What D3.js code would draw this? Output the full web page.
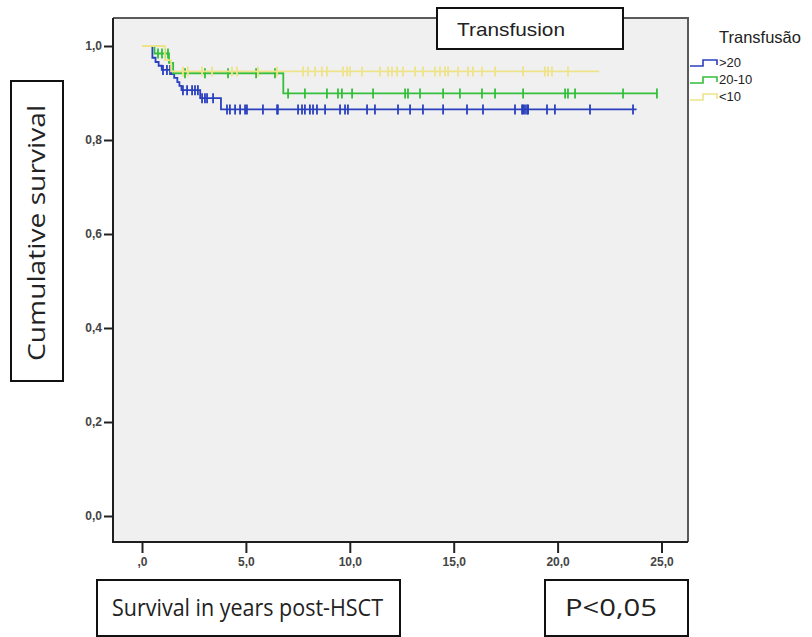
<!DOCTYPE html>
<html>
<head>
<meta charset="utf-8">
<script src="https://cdn.jsdelivr.net/npm/d3@7"></script>
<style>
  html, body { margin: 0; padding: 0; background: #ffffff; }
  svg { display: block; }
</style>
</head>
<body>
<svg id="chart" width="812" height="637"></svg>
<script>
// Kaplan–Meier survival by transfusion group
const groups = [">20", "20-10", "<10"];
const groupColors = ["#2a40bd", "#33bf3b", "#eee38a"];

// Group >20: event times and survival after each step
const stepTimesHigh = [0, 0.5, 0.65, 0.8, 0.95, 1.4, 1.55, 1.7, 1.8, 1.9, 2.8, 3.8];
const survivalHigh  = [1, 0.975, 0.966, 0.958, 0.949, 0.940, 0.932, 0.923, 0.915, 0.906, 0.889, 0.865];
const endHigh = 23.8;
const censorHigh = [1.01, 1.20, 1.35, 1.97, 2.17, 2.41, 2.55, 2.69, 2.89, 3.03, 3.13, 3.42,
  4.09, 4.23, 4.48, 4.72, 4.96, 5.05, 5.82, 6.50, 6.54, 7.51, 7.70, 7.84, 8.08, 8.23, 8.42,
  8.81, 9.53, 9.77, 9.91, 10.83, 11.21, 12.32, 12.90, 13.52, 14.49, 15.64, 16.41, 17.95,
  18.29, 18.34, 18.43, 18.53, 18.58, 19.49, 19.87, 21.56, 23.63];

// Group 20-10
const stepTimesMid = [0, 0.6, 1.3, 1.5, 6.8];
const survivalMid  = [1, 0.984, 0.964, 0.942, 0.899];
const endMid = 24.8;
const censorMid = [0.77, 0.96, 1.11, 1.25, 2.07, 3.03, 4.14, 5.49, 6.40, 7.03, 7.84, 8.90,
  9.43, 9.62, 10.11, 11.12, 12.66, 12.80, 13.38, 14.49, 15.30, 16.36, 16.99, 18.34, 20.36,
  20.50, 20.84, 23.15, 24.78];

// Group <10
const stepTimesLow = [0, 1.1, 1.4];
const survivalLow  = [1, 0.97, 0.946];
const endLow = 22.0;
const censorLow = [1.97, 2.21, 2.89, 3.37, 4.33, 4.57, 5.58, 6.50, 7.75, 7.99, 8.33, 8.66,
  8.90, 9.67, 9.87, 10.01, 10.59, 11.45, 11.84, 12.03, 12.27, 12.56, 13.14, 13.52, 14.10,
  14.34, 14.58, 14.73, 15.21, 15.69, 15.93, 16.36, 16.99, 18.34, 19.39, 19.54, 19.73, 20.50];

// Axis ticks
const xTickValues = [0, 5, 10, 15, 20, 25];
const xTickLabels = [",0", "5,0", "10,0", "15,0", "20,0", "25,0"];
const yTickValues = [0, 0.2, 0.4, 0.6, 0.8, 1.0];
const yTickLabels = ["0,0", "0,2", "0,4", "0,6", "0,8", "1,0"];

const series = [
  { name: groups[0], color: groupColors[0], times: stepTimesHigh, surv: survivalHigh, end: endHigh, censor: censorHigh },
  { name: groups[1], color: groupColors[1], times: stepTimesMid,  surv: survivalMid,  end: endMid,  censor: censorMid },
  { name: groups[2], color: groupColors[2], times: stepTimesLow,  surv: survivalLow,  end: endLow,  censor: censorLow }
];

const svg = d3.select("#chart");

// Plot frame
const frame = { left: 113, right: 688, top: 18, bottom: 542 };
const x = d3.scaleLinear().domain([0, 25]).range([142, 661.5]);
const y = d3.scaleLinear().domain([0, 1]).range([516, 46]);

svg.append("rect")
  .attr("x", frame.left).attr("y", frame.top)
  .attr("width", frame.right - frame.left).attr("height", frame.bottom - frame.top)
  .attr("fill", "#f0f0f0");
svg.append("path")
  .attr("d", `M${frame.left},${frame.top}H${frame.right}V${frame.bottom}`)
  .attr("fill", "none").attr("stroke", "#5a5a5a").attr("stroke-width", 2);
svg.append("path")
  .attr("d", `M${frame.left},${frame.top}V${frame.bottom}H${frame.right}`)
  .attr("fill", "none").attr("stroke", "#1e1e1e").attr("stroke-width", 2);

// Axes
const xAxis = d3.axisBottom(x)
  .tickValues(xTickValues)
  .tickFormat((d, i) => xTickLabels[i])
  .tickSize(10).tickPadding(4);
const gx = svg.append("g").attr("transform", `translate(0,${frame.bottom + 1})`).call(xAxis);
gx.select(".domain").remove();

const yAxis = d3.axisLeft(y)
  .tickValues(yTickValues)
  .tickFormat((d, i) => yTickLabels[i])
  .tickSize(8).tickPadding(2);
const gy = svg.append("g").attr("transform", `translate(${frame.left - 1},0)`).call(yAxis);
gy.select(".domain").remove();

[gx, gy].forEach(g => {
  g.selectAll("line").attr("stroke", "#222").attr("stroke-width", 2);
  g.selectAll("text")
    .attr("fill", "#444")
    .style("font-family", "'Liberation Sans', Arial, sans-serif")
    .style("font-size", "12px")
    .style("font-weight", "bold");
});

// Survival step curves with censoring marks
const line = d3.line()
  .x(d => x(d[0]))
  .y(d => y(d[1]))
  .curve(d3.curveStepAfter);

function survivalAt(s, t) {
  let v = s.surv[0];
  for (let i = 0; i < s.times.length; i++) {
    if (s.times[i] <= t) v = s.surv[i];
  }
  return v;
}

series.forEach(s => {
  const pts = s.times.map((t, i) => [t, s.surv[i]]);
  pts.push([s.end, s.surv[s.surv.length - 1]]);
  const g = svg.append("g");
  g.append("path")
    .attr("d", line(pts))
    .attr("fill", "none")
    .attr("stroke", s.color)
    .attr("stroke-width", 1.8);
  g.selectAll("line.censor")
    .data(s.censor)
    .join("line")
    .attr("class", "censor")
    .attr("x1", d => x(d)).attr("x2", d => x(d))
    .attr("y1", d => y(survivalAt(s, d)) - 5)
    .attr("y2", d => y(survivalAt(s, d)) + 5)
    .attr("stroke", s.color)
    .attr("stroke-width", 1.8);
});

// Legend
const legend = svg.append("g")
  .style("font-family", "'Liberation Sans', Arial, sans-serif");
legend.append("text")
  .attr("x", 719).attr("y", 43)
  .attr("fill", "#222")
  .style("font-size", "16.5px")
  .text("Transfusão");
const legendRows = [67, 84, 101];
series.forEach((s, i) => {
  const yy = legendRows[i];
  legend.append("path")
    .attr("d", `M690,${yy - 1}H703V${yy - 7}H717V${yy - 2}`)
    .attr("fill", "none").attr("stroke", s.color).attr("stroke-width", 1.6);
  legend.append("text")
    .attr("x", 719).attr("y", yy)
    .attr("fill", "#222")
    .style("font-size", "13px")
    .text(s.name);
});

// Boxed labels
function boxedLabel(bx, by, bw, bh, text, opts) {
  svg.append("rect")
    .attr("x", bx).attr("y", by).attr("width", bw).attr("height", bh)
    .attr("fill", "#ffffff").attr("stroke", "#111").attr("stroke-width", 2);
  const t = svg.append("text")
    .attr("fill", "#222")
    .style("font-family", opts.font)
    .style("font-size", opts.size + "px")
    .text(text);
  if (opts.rotate) {
    t.attr("transform", `translate(${opts.x},${opts.y}) rotate(-90)`)
      .attr("text-anchor", "middle");
  } else {
    t.attr("x", opts.x).attr("y", opts.y);
  }
  if (opts.length) t.attr("textLength", opts.length).attr("lengthAdjust", "spacingAndGlyphs");
}

boxedLabel(437, 8, 186, 41, "Transfusion",
  { font: "'Liberation Sans', Arial, sans-serif", size: 19, x: 457, y: 36, length: 108 });
boxedLabel(11, 81, 52, 300, "Cumulative survival",
  { font: "'Open Sans', sans-serif", size: 24, x: 45, y: 233, rotate: true, length: 256 });
boxedLabel(97, 580, 303, 56, "Survival in years post-HSCT",
  { font: "'Open Sans', sans-serif", size: 23, x: 112, y: 616, length: 271 });
boxedLabel(545, 580, 143, 56, "P<0,05",
  { font: "'Open Sans', sans-serif", size: 23, x: 565, y: 616, length: 92 });
</script>
</body>
</html>
